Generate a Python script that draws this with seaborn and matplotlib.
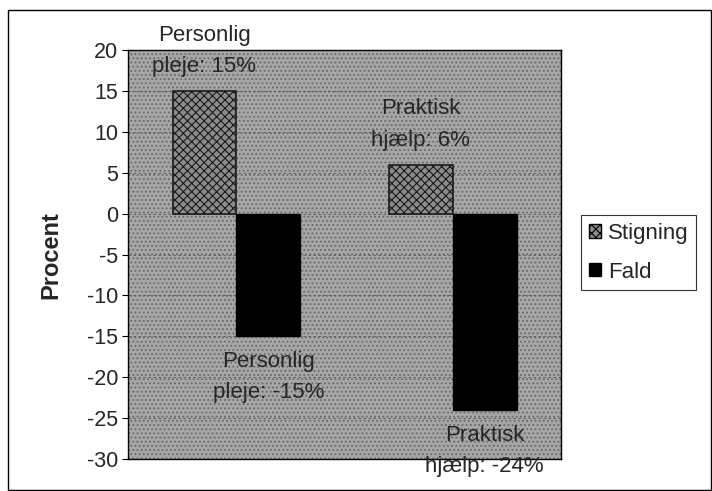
import matplotlib
matplotlib.use("Agg")
import matplotlib.pyplot as plt
from matplotlib.patches import Rectangle
import seaborn as sns
import pandas as pd

categories = ["Personlig pleje", "Praktisk hjælp"]
series = ["Stigning", "Fald"]
stigning = [15, 6]
fald = [-15, -24]
label_stigning = ["Personlig\npleje: 15%", "Praktisk\nhjælp: 6%"]
label_fald = ["Personlig\npleje: -15%", "Praktisk\nhjælp: -24%"]
yticks = [20, 15, 10, 5, 0, -5, -10, -15, -20, -25, -30]

df = pd.DataFrame({
    "Kategori": categories * 2,
    "Serie": [series[0]] * 2 + [series[1]] * 2,
    "Procent": stigning + fald,
})

sns.set_style("white")
plt.rcParams['font.family'] = ['Liberation Sans', 'DejaVu Sans']
plt.rcParams['hatch.linewidth'] = 0.8

fig = plt.figure(figsize=(7.12, 4.91), dpi=100)
ax = fig.add_axes([0.180, 0.065, 0.608, 0.833])

# textured grey plot area
ax.set_facecolor("#9c9c9c")
bg = Rectangle((0, 0), 1, 1, transform=ax.transAxes, facecolor="#a6a6a6",
               edgecolor="#686868", hatch="....", linewidth=0, zorder=0)
ax.add_patch(bg)

palette = {"Stigning": "#8c8c8c", "Fald": "#000000"}
sns.barplot(data=df, x="Kategori", y="Procent", hue="Serie", palette=palette,
            width=0.59, ax=ax, legend=False, zorder=3, saturation=1)

bars = [p for p in ax.patches if p is not bg]
for b in bars:
    if b.get_facecolor()[0] > 0.1:
        b.set_edgecolor("#1a1a1a")
        b.set_linewidth(1.2)
        b.set_hatch("xxxx")
    else:
        b.set_edgecolor("black")

ax.set_ylim(-30, 20)
ax.set_yticks(yticks)
ax.set_yticklabels([str(t) for t in yticks], fontsize=15.5)
ax.set_xticks([])
ax.set_xlabel("")
ax.set_ylabel("Procent", fontsize=17, fontweight="bold")
ax.yaxis.set_label_coords(-0.152, 0.5)
for t in yticks:
    ax.axhline(t, color="#555555", lw=0.6, ls=(0, (3, 3)), zorder=1)
ax.tick_params(axis="y", length=4, width=0.8, color="black", left=True, pad=3)
for s in ax.spines.values():
    s.set_color("black")
    s.set_linewidth(1.0)

# data labels
for i in range(len(categories)):
    xs = i - 0.1475
    xf = i + 0.1475
    ax.text(xs, stigning[i] + 4.9, label_stigning[i], ha="center", va="center",
            fontsize=16, linespacing=1.65, zorder=5, clip_on=False)
    ax.text(xf, fald[i] - 5.0, label_fald[i], ha="center", va="center",
            fontsize=16, linespacing=1.65, zorder=5, clip_on=False)

handles = [Rectangle((0, 0), 1, 1, facecolor="#8c8c8c", edgecolor="black", hatch="xxxx"),
           Rectangle((0, 0), 1, 1, facecolor="black", edgecolor="black")]
leg = fig.legend(handles, series, loc="upper left", bbox_to_anchor=(581 / 712, 1 - 215 / 491),
                 fontsize=16, frameon=True, fancybox=False, handlelength=0.55,
                 handleheight=0.55, handletextpad=0.3, borderpad=0.35,
                 labelspacing=0.8, borderaxespad=0)
leg.get_frame().set_edgecolor("black")
leg.get_frame().set_linewidth(0.8)

fig.patches.append(Rectangle((8 / 712, 1 / 491), 703 / 712, 480 / 491,
                             transform=fig.transFigure, fill=False,
                             edgecolor="black", linewidth=1.0))

fig.savefig("out.png", dpi=100)
